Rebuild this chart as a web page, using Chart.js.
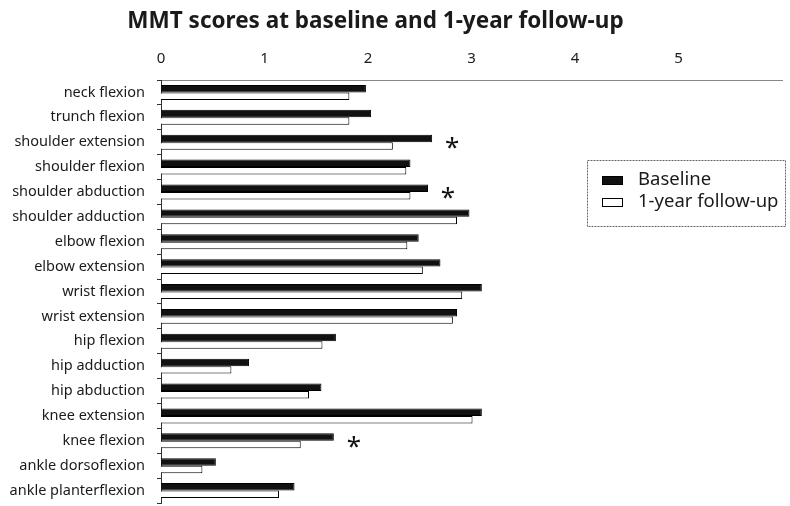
<!DOCTYPE html>
<html>
<head>
<meta charset="utf-8">
<script src="https://cdn.jsdelivr.net/npm/chart.js@4"></script>
<style>
  html, body { margin: 0; padding: 0; background: #fff; }
  #wrap { position: relative; width: 790px; height: 506px; }
  #myChart { display: block; }
  #title {
    position: absolute; left: 0; top: 4px; width: 751px; text-align: center;
    font: bold 22.5px "Noto Sans", sans-serif; color: #1a1a1a;
  }
</style>
</head>
<body>
<div id="wrap">
  <div id="title">MMT scores at baseline and 1-year follow-up</div>
  <canvas id="myChart" width="790" height="506"></canvas>
</div>
<script>
const muscles = [
  'neck flexion', 'trunch flexion', 'shoulder extension', 'shoulder flexion',
  'shoulder abduction', 'shoulder adduction', 'elbow flexion', 'elbow extension',
  'wrist flexion', 'wrist extension', 'hip flexion', 'hip adduction',
  'hip abduction', 'knee extension', 'knee flexion', 'ankle dorsoflexion',
  'ankle planterflexion'
];
const baseline = [1.98, 2.03, 2.62, 2.41, 2.58, 2.98, 2.49, 2.70, 3.10, 2.86, 1.69, 0.85, 1.55, 3.10, 1.67, 0.53, 1.29];
const followUp = [1.82, 1.82, 2.24, 2.37, 2.41, 2.86, 2.38, 2.53, 2.91, 2.82, 1.56, 0.68, 1.43, 3.01, 1.35, 0.40, 1.14];
// muscles with a significant change (marked with *)
const significant = ['shoulder extension', 'shoulder abduction', 'knee flexion'];
const xTicks = [0, 1, 2, 3, 4, 5];

const FONT = '"Noto Sans", sans-serif';

// legend box and asterisks drawn inside the plot area
const extras = {
  id: 'extras',
  afterDraw(chart) {
    const ctx = chart.ctx;
    const x = chart.scales.x, y = chart.scales.y;
    ctx.save();

    // asterisks
    ctx.fillStyle = '#111';
    ctx.font = '26px ' + FONT;
    ctx.textAlign = 'center';
    ctx.textBaseline = 'alphabetic';
    const m = ctx.measureText('*');
    const shift = (m.actualBoundingBoxAscent - m.actualBoundingBoxDescent) / 2;
    significant.forEach(name => {
      const i = muscles.indexOf(name);
      const px = x.getPixelForValue(baseline[i]) + 20;
      const py = y.getPixelForValue(i) + 1;
      ctx.fillText('*', px, py + shift);
    });

    // legend
    const bx = 587, by = 160, bw = 198, bh = 66;
    ctx.strokeStyle = '#666';
    ctx.lineWidth = 1;
    ctx.setLineDash([2, 1]);
    ctx.strokeRect(bx + 0.5, by + 0.5, bw, bh);
    ctx.setLineDash([]);
    ctx.font = '18.5px ' + FONT;
    ctx.textAlign = 'left';
    ctx.textBaseline = 'middle';
    chart.data.datasets.forEach((ds, k) => {
      const cy = by + 21 + k * 22;
      ctx.fillStyle = ds.backgroundColor;
      ctx.fillRect(bx + 15.5, cy - 4.5, 20, 8);
      ctx.strokeStyle = '#000';
      ctx.strokeRect(bx + 15.5, cy - 4.5, 20, 8);
      ctx.fillStyle = '#1a1a1a';
      ctx.fillText(ds.label, bx + 51, cy - 1);
    });
    ctx.restore();
  }
};

const ctx = document.getElementById('myChart');
new Chart(ctx, {
  type: 'bar',
  data: {
    labels: muscles,
    datasets: [
      { label: 'Baseline', data: baseline, backgroundColor: '#111', borderColor: '#000', borderWidth: 1 },
      { label: '1-year follow-up', data: followUp, backgroundColor: '#fff', borderColor: '#000', borderWidth: 1 }
    ]
  },
  options: {
    indexAxis: 'y',
    responsive: false,
    animation: false,
    datasets: { bar: { categoryPercentage: 0.6, barPercentage: 1.0 } },
    layout: { padding: { top: 48, right: 8, bottom: 3, left: 0 } },
    plugins: {
      legend: { display: false },
      tooltip: { enabled: false }
    },
    scales: {
      x: {
        position: 'top',
        min: 0,
        max: 6,
        afterBuildTicks: s => { s.ticks = xTicks.concat([6]).map(v => ({ value: v })); },
        afterFit: s => { s.height = 32; s.paddingLeft = 0; s.paddingRight = 0; },
        ticks: {
          padding: 12,
          color: '#1a1a1a',
          font: { family: FONT, size: 15 },
          callback: v => (xTicks.includes(v) ? String(v) : '')
        },
        grid: { display: false, drawTicks: false },
        border: { display: true, color: '#888', width: 1, dash: [2, 1] }
      },
      y: {
        afterFit: s => { s.width = 161; s.paddingTop = 0; s.paddingBottom = 0; },
        ticks: {
          padding: 12,
          color: '#1a1a1a',
          font: { family: FONT, size: 14.5 }
        },
        grid: { drawOnChartArea: false, drawTicks: true, tickLength: 4, color: '#333' },
        border: { display: true, color: '#333', width: 1, dash: [2, 1] }
      }
    }
  },
  plugins: [extras]
});
</script>
</body>
</html>
